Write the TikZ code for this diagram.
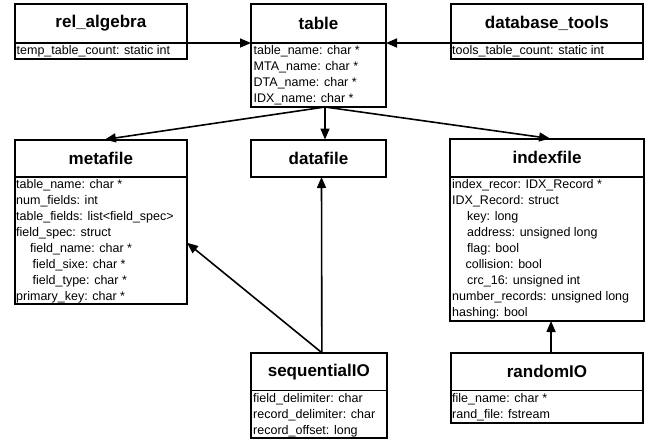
\documentclass[tikz,border=0pt]{standalone}
\usepackage{fontspec}
\setmainfont{Liberation Sans}
\usetikzlibrary{arrows.meta}
\tikzset{
 classbox/.style={draw, line width=2pt, inner sep=0pt, outer sep=0pt, anchor=north west},
 headbox/.style={draw, line width=1.3pt, inner sep=0pt, outer sep=0pt, anchor=north west, font=\fontsize{17}{20}\selectfont\bfseries},
 attr/.style={anchor=base west, inner sep=0pt, font=\fontsize{12.5}{16}\selectfont},
 arr/.style={line width=1.6pt, -{Triangle[length=11pt,width=9pt]}},
}
\newcommand\attrlist[4]{\foreach \t [count=\i] in {#4} {\node[attr] (#1-\i) at (#2,{#3+16*\i-4.5}) {\t};}}
\begin{document}
\begin{tikzpicture}[x=1pt,y=-1pt]
\useasboundingbox (0,0) rectangle (649,440);
% rel_algebra
\node[classbox, minimum width=172.3pt, minimum height=55pt] (rel) at (14.7,4) {};
\node[headbox, minimum width=172.3pt, minimum height=39pt] (rel-h) at (14.7,4) {rel\_algebra};
\attrlist{rela}{16.5}{43}{temp\_table\_count: static int}
% table
\node[classbox, minimum width=135pt, minimum height=103pt] (table) at (251,4) {};
\node[headbox, minimum width=135pt, minimum height=39pt] (table-h) at (251,4) {table};
\attrlist{tab}{253.5}{43}{table\_name: char *, MTA\_name: char *, DTA\_name: char *, IDX\_name: char *}
% database_tools
\node[classbox, minimum width=192.3pt, minimum height=55pt] (dbt) at (450.7,4) {};
\node[headbox, minimum width=192.3pt, minimum height=39pt] (dbt-h) at (450.7,4) {database\_tools};
\attrlist{dbta}{452}{43}{tools\_table\_count: static int}
% metafile
\node[classbox, minimum width=172.3pt, minimum height=164.5pt] (meta) at (14.7,139.5) {};
\node[headbox, minimum width=172.3pt, minimum height=37.5pt] (meta-h) at (14.7,139.5) {metafile};
\attrlist{meta}{16}{177}{table\_name: char *, num\_fields: int, table\_fields: list<field\_spec>, field\_spec: struct, \hspace*{14pt}field\_name: char *, \hspace*{16.5pt}field\_sixe: char *, \hspace*{16.5pt}field\_type: char *, primary\_key: char *}
% datafile
\node[classbox, minimum width=135pt, minimum height=37.5pt] (data) at (251,139.5) {};
\node[headbox, minimum width=135pt, minimum height=37.5pt] (data-h) at (251,139.5) {datafile};
% indexfile
\node[classbox, minimum width=193.5pt, minimum height=182.5pt] (index) at (450.3,138.5) {};
\node[headbox, minimum width=193.5pt, minimum height=38.5pt] (index-h) at (450.3,138.5) {indexfile};
\attrlist{idx}{452}{177}{index\_recor: IDX\_Record *, IDX\_Record: struct, \hspace*{15pt}key: long, \hspace*{15pt}address: unsigned long, \hspace*{15pt}flag: bool, \hspace*{13.5pt}collision: bool, \hspace*{15pt}crc\_16: unsigned int, number\_records: unsigned long, hashing: bool}
% sequentialIO
\node[classbox, minimum width=135.7pt, minimum height=85.6pt] (seq) at (251,352.7) {};
\node[headbox, minimum width=135.7pt, minimum height=38pt] (seq-h) at (251,352.7) {sequentialIO};
\attrlist{seqa}{253}{390.7}{field\_delimiter: char, record\_delimiter: char, record\_offset: long}
% randomIO
\node[classbox, minimum width=192.6pt, minimum height=70pt] (rand) at (450.7,352.7) {};
\node[headbox, minimum width=192.6pt, minimum height=38pt] (rand-h) at (450.7,352.7) {randomIO};
\attrlist{randa}{452}{390.7}{file\_name: char *, rand\_file: fstream}
% connectors
\draw[arr] (rel-h.south east) -- (table-h.south west);
\draw[arr] (dbt-h.south west) -- (table-h.south east);
\draw[arr] ([xshift=6.5pt]table.south) -- ([xshift=4pt]meta.north);
\draw[arr] ([xshift=6.5pt]table.south) -- ([xshift=6.5pt]data.north);
\draw[arr] ([xshift=6.5pt]table.south) -- ([xshift=3pt]index.north);
\draw[arr] ([xshift=3pt]seq.north) -- ([xshift=3pt]data.south);
\draw[arr] ([xshift=3pt]seq.north) -- ([yshift=-21pt]meta.east);
\draw[arr] ([xshift=4pt]rand.north) -- ([xshift=4pt]index.south);
\end{tikzpicture}
\end{document}
